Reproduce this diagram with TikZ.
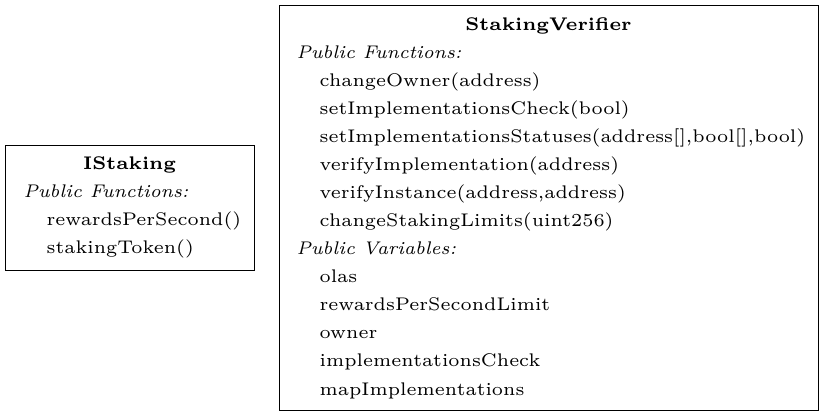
\documentclass[tikz,border=0pt]{standalone}
\usepackage{tikz}
\usetikzlibrary{positioning}
\tikzstyle{classbox} = [rectangle, draw=black, line width=0.9pt, inner sep=0pt]
\tikzstyle{classname} = [font=\fontsize{6}{7}\selectfont\bfseries, scale=3.05, inner sep=0pt, anchor=base]
\tikzstyle{sectionlabel} = [font=\fontsize{6}{7}\selectfont\itshape, scale=3.05, inner sep=0pt, anchor=base west]
\tikzstyle{member} = [font=\fontsize{6}{7}\selectfont, scale=3.05, inner sep=0pt, anchor=base west]
\begin{document}
\begin{tikzpicture}[x=1pt, y=-1pt]
\useasboundingbox (0,0) rectangle (823,416);

% IStaking
\node (istaking) [classbox, minimum width=249pt, minimum height=125pt] at (129.5,207.5) {};
\node (istitle) [classname] at (129.5,169) {IStaking};
\node (isfuncs) [sectionlabel] at (23,197.1) {Public Functions:};
\node (isfn1) [member] at (46,225.2) {rewardsPerSecond()};
\node (isfn2) [member] at (46,253.3) {stakingToken()};

% StakingVerifier
\node (verifier) [classbox, minimum width=539pt, minimum height=405pt] at (548.5,207.5) {};
\node (svtitle) [classname] at (548.5,30) {StakingVerifier};
\node (svfuncs) [sectionlabel] at (296,58.1) {Public Functions:};
\foreach \fname [count=\i] in {changeOwner(address), setImplementationsCheck(bool), {setImplementationsStatuses(address[],bool[],bool)}, verifyImplementation(address), {verifyInstance(address,address)}, changeStakingLimits(uint256)}
  \node (svfn\i) [member] at (319,58.1+28.08*\i) {\fname};

% Variables
\node (svvars) [sectionlabel] at (296,254.6) {Public Variables:};
\foreach \vname [count=\i] in {olas, rewardsPerSecondLimit, owner, implementationsCheck, mapImplementations}
  \node (svvar\i) [member] at (319,254.6+28.08*\i) {\vname};

\end{tikzpicture}
\end{document}
